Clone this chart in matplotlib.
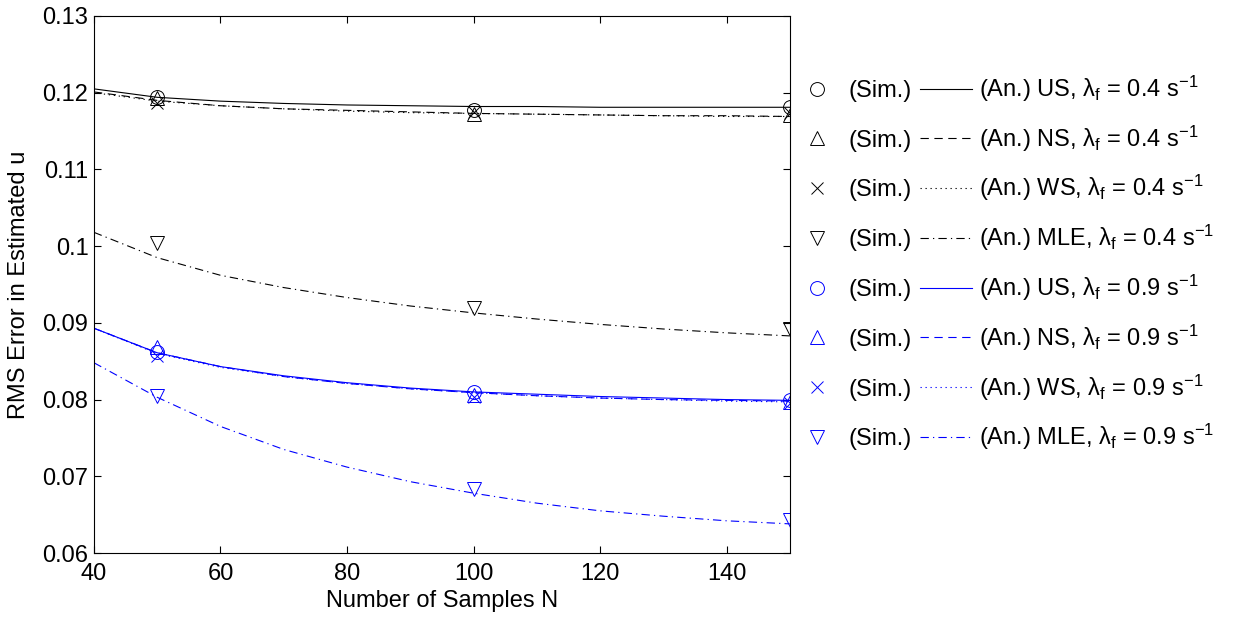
import numpy as np
import matplotlib
matplotlib.use("Agg")
import matplotlib.pyplot as plt
from matplotlib.ticker import FuncFormatter
from matplotlib.legend_handler import HandlerBase
from matplotlib.lines import Line2D

plt.rcParams['font.family'] = ['Liberation Sans', 'DejaVu Sans']
plt.rcParams['mathtext.fontset'] = 'custom'
plt.rcParams['mathtext.rm'] = 'Liberation Sans'
plt.rcParams['mathtext.it'] = 'Liberation Sans:italic'
plt.rcParams['lines.scale_dashes'] = False

# simulation points
n_sim = [50, 100, 150]
us04_sim = [0.1195, 0.1178, 0.1182]
ns04_sim = [0.1193, 0.1172, 0.1171]
ws04_sim = [0.1186, 0.1175, 0.1173]
mle04_sim = [0.1004, 0.0919, 0.0892]
us09_sim = [0.0862, 0.0810, 0.0800]
ns09_sim = [0.0869, 0.0806, 0.0797]
ws09_sim = [0.0857, 0.0804, 0.0796]
mle09_sim = [0.0805, 0.0683, 0.0643]

# analytic curves
n_an = [40, 50, 60, 70, 80, 90, 100, 110, 120, 130, 140, 150]
us04_an = [0.1205, 0.1194, 0.1189, 0.1186, 0.1184, 0.1183, 0.1182, 0.1182, 0.1181, 0.1181, 0.1181, 0.1181]
ns04_an = [0.1201, 0.1190, 0.1183, 0.1179, 0.1177, 0.1175, 0.1173, 0.1172, 0.1171, 0.1170, 0.1170, 0.1169]
ws04_an = [0.1200, 0.1189, 0.1183, 0.1179, 0.1176, 0.1174, 0.1173, 0.1172, 0.1171, 0.1170, 0.1169, 0.1169]
mle04_an = [0.1018, 0.0985, 0.0962, 0.0946, 0.0933, 0.0922, 0.0913, 0.0905, 0.0898, 0.0892, 0.0887, 0.0883]
us09_an = [0.0893, 0.0861, 0.0843, 0.0831, 0.0822, 0.0815, 0.0810, 0.0807, 0.0804, 0.0802, 0.0800, 0.0799]
ns09_an = [0.0893, 0.0861, 0.0843, 0.0830, 0.0821, 0.0814, 0.0809, 0.0805, 0.0802, 0.0800, 0.0799, 0.0798]
ws09_an = [0.0893, 0.0860, 0.0842, 0.0830, 0.0821, 0.0814, 0.0809, 0.0805, 0.0802, 0.0800, 0.0798, 0.0797]
mle09_an = [0.0848, 0.0803, 0.0765, 0.0735, 0.0712, 0.0693, 0.0678, 0.0665, 0.0655, 0.0648, 0.0642, 0.0638]

methods = ['US', 'NS', 'WS', 'MLE']
markers = ['o', '^', 'x', 'v']
msizes = [10, 10, 8, 10]
dashes = [None, (6, 4), (0.9, 2.7), (6, 3, 0.9, 3)]

FS = 17


def line_style(d):
    return '-' if d is None else (0, d)


class SimAnHandler(HandlerBase):
    # marker + line sample in one legend handle, "(Sim.)" goes in between later
    def __init__(self):
        super().__init__()
        self.boxes = []

    def create_artists(self, legend, orig_handle, xdescent, ydescent,
                       width, height, fontsize, trans):
        marker, msize, col, dash = orig_handle
        em = fontsize
        yc = (height - ydescent) / 2
        m = Line2D([0.76 * em], [yc], linestyle='none', marker=marker,
                   markersize=msize, markerfacecolor='none',
                   markeredgecolor=col, markeredgewidth=0.7)
        m.set_transform(trans)
        l = Line2D([5.13 * em, 7.33 * em], [yc, yc], color=col,
                   linewidth=0.8, linestyle=line_style(dash))
        l.set_transform(trans)
        self.boxes.append((trans, em, -ydescent))
        return [m, l]


fig = plt.figure(figsize=(12.36, 6.17), dpi=100)
ax = fig.add_axes([0.076, 0.1037, 0.563, 0.8704])

sim_sets = [(us04_sim, ns04_sim, ws04_sim, mle04_sim, 'k', '0.4'),
            (us09_sim, ns09_sim, ws09_sim, mle09_sim, 'b', '0.9')]
an_sets = [(us04_an, ns04_an, ws04_an, mle04_an),
           (us09_an, ns09_an, ws09_an, mle09_an)]

handles, labels = [], []
for s, a in zip(sim_sets, an_sets):
    col, lam = s[4], s[5]
    for i in range(4):
        ax.plot(n_sim, s[i], linestyle='none', marker=markers[i],
                markersize=msizes[i], markerfacecolor='none',
                markeredgecolor=col, markeredgewidth=0.7)
        ax.plot(n_an, a[i], color=col, linewidth=0.8,
                linestyle=line_style(dashes[i]))
        handles.append((markers[i], msizes[i], col, dashes[i]))
        labels.append('(An.) %s, λ$_{\\rm f}$ = %s s$^{-1}$' % (methods[i], lam))

ax.set_xlim(40, 150)
ax.set_ylim(0.06, 0.13)
ax.set_xticks([40, 60, 80, 100, 120, 140])
ax.set_yticks([0.06, 0.07, 0.08, 0.09, 0.10, 0.11, 0.12, 0.13])
ax.yaxis.set_major_formatter(FuncFormatter(lambda v, p: '%g' % round(v, 2)))
ax.tick_params(direction='in', top=True, right=True, length=5, width=0.8,
               labelsize=FS)
ax.tick_params(axis='x', pad=7)
ax.tick_params(axis='y', pad=4)
for sp in ax.spines.values():
    sp.set_linewidth(0.8)
ax.set_xlabel('Number of Samples N', fontsize=FS, labelpad=4)
ax.set_ylabel('RMS Error in Estimated u', fontsize=FS)
ax.yaxis.set_label_coords(-0.092, 0.5)

handler = SimAnHandler()
fig.legend(handles, labels, handler_map={tuple: handler},
           loc='upper left', bbox_to_anchor=(0.6467, 0.8806),
           frameon=False, fontsize=FS, handlelength=7.33, handletextpad=0.3,
           labelspacing=0.83, borderaxespad=0, borderpad=0)

# place the "(Sim.)" words between marker and line of each legend row
fig.canvas.draw()
W, H = fig.bbox.width, fig.bbox.height
for trans, em, yb in handler.boxes:
    x, y = trans.transform((2.08 * em, yb))
    fig.text(x / W, y / H, '(Sim.)', fontsize=FS, ha='left', va='baseline')

fig.savefig('out.png', dpi=100)
